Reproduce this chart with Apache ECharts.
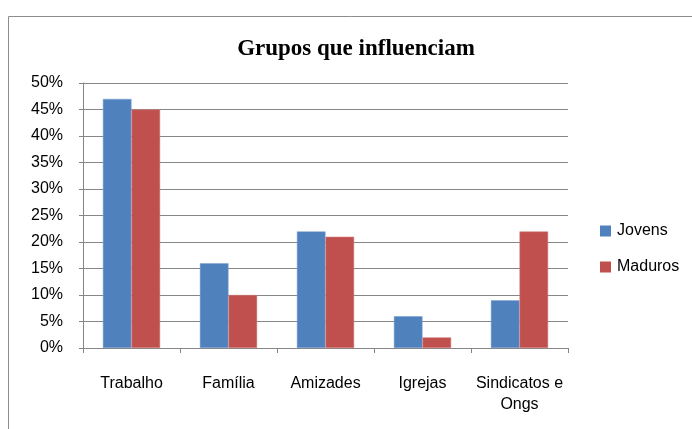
<!DOCTYPE html>
<html><head><meta charset="utf-8">
<script src="https://cdn.jsdelivr.net/npm/echarts@6/dist/echarts.min.js"></script>
<style>html,body{margin:0;padding:0;background:#fff}#c{width:692px;height:429px}</style>
</head><body><div id="c"></div>
<script>
const categories = ['Trabalho', 'Família', 'Amizades', 'Igrejas', 'Sindicatos e\nOngs'];
const jovens = [47, 16, 22, 6, 9];
const maduros = [45, 10, 21, 2, 22];
const yTicks = [0, 5, 10, 15, 20, 25, 30, 35, 40, 45, 50];

const chart = echarts.init(document.getElementById('c'), null, {renderer: 'canvas'});
const font = '"Liberation Sans", Arial, sans-serif';
chart.setOption({
  animation: false,
  graphic: [{type: 'rect', shape: {x: 8.5, y: 16.5, width: 800, height: 600}, style: {fill: 'none', stroke: '#8c8c8c', lineWidth: 1}, silent: true, z: -1}],
  title: {text: 'Grupos que influenciam', left: 351, top: 33, textAlign: 'center',
    textStyle: {fontFamily: '"Liberation Serif", "Times New Roman", serif', fontWeight: 'bold', fontSize: 23, color: '#000'}},
  legend: {orient: 'vertical', left: 600, top: 223, padding: 0, itemWidth: 11, itemHeight: 11, itemGap: 20,
    icon: 'rect', itemStyle: {borderWidth: 0},
    textStyle: {fontFamily: font, fontSize: 16, color: '#000', padding: [0,0,0,1]},
    data: ['Jovens', 'Maduros']},
  grid: {left: 83, top: 83, width: 485, height: 265, containLabel: false},
  xAxis: {type: 'category', data: categories,
    axisLine: {lineStyle: {color: '#868686'}},
    axisTick: {show: true, length: 5, lineStyle: {color: '#868686'}},
    axisLabel: {interval: 0, fontFamily: font, fontSize: 16, color: '#000', margin: 25, lineHeight: 21}},
  yAxis: {type: 'value', min: 0, max: 50, interval: 5,
    axisLine: {show: true, lineStyle: {color: '#868686'}},
    axisTick: {show: true, length: 4, lineStyle: {color: '#868686'}},
    axisLabel: {fontFamily: font, fontSize: 16, color: '#000', margin: 20,
      formatter: v => yTicks.includes(v) ? v + '%' : ''},
    splitLine: {lineStyle: {color: '#868686'}}},
  series: [
    {name: 'Jovens', type: 'bar', data: jovens, barGap: '0%', barCategoryGap: '41%',
      itemStyle: {color: '#4f81bd', borderColor: '#7fa3d2', borderWidth: 0.5}},
    {name: 'Maduros', type: 'bar', data: maduros, barGap: '0%', barCategoryGap: '41%',
      itemStyle: {color: '#c0504d', borderColor: '#d68582', borderWidth: 0.5}}
  ]
});
</script></body></html>
